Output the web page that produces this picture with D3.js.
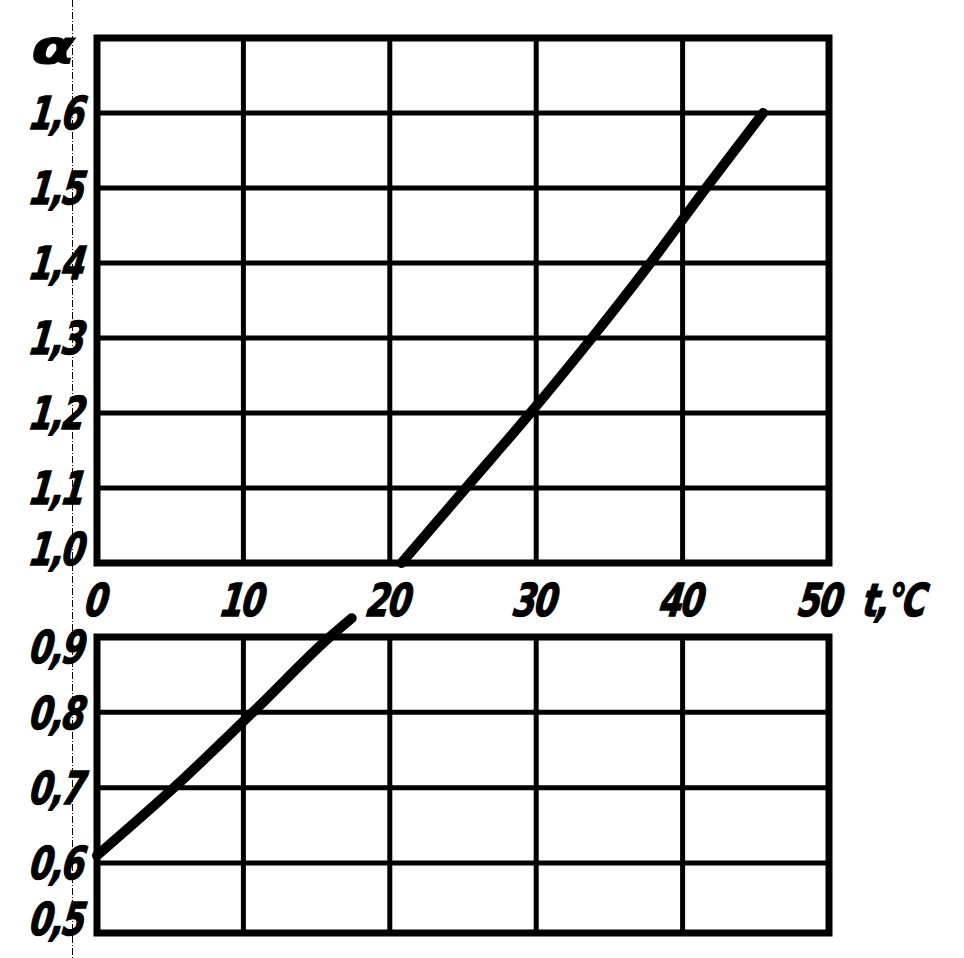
<!DOCTYPE html>
<html>
<head>
<meta charset="utf-8">
<script src="https://cdn.jsdelivr.net/npm/d3@7"></script>
<style>
  body { margin: 0; background: #fff; }
  text { font-family: "DejaVu Sans Condensed", "DejaVu Sans", sans-serif; font-weight: bold; font-style: oblique; fill: #000; stroke: #000; stroke-width: 1.2px; letter-spacing: -2px; }
</style>
</head>
<body>
<div id="chart"></div>
<script>
// temperature ticks, shared by both panels
const tTicks = [0, 10, 20, 30, 40, 50];

// upper panel: alpha >= 1
const upperTicks = [1.0, 1.1, 1.2, 1.3, 1.4, 1.5, 1.6];
const upperT     = [20.8, 25.2, 29.6, 33.8, 37.8, 41.6, 45.5];
const upperAlpha = [1.0, 1.1, 1.2, 1.3, 1.4, 1.5, 1.6];

// lower panel: alpha < 1
const lowerTicks = [0.5, 0.6, 0.7, 0.8, 0.9];
const lowerT     = [0, 5.7, 10.9, 15.9, 17.4];
const lowerAlpha = [0.61, 0.708, 0.805, 0.9, 0.925];

const W = 964, H = 958;
const fmt = v => d3.format(".1f")(v).replace(".", ",");

const svg = d3.select("#chart").append("svg")
    .attr("width", W)
    .attr("height", H);

// scanner artefact: thin dash-dot line down the left side
svg.append("line")
    .attr("x1", 72.5).attr("x2", 72.5)
    .attr("y1", 0).attr("y2", H)
    .attr("stroke", "#000")
    .attr("stroke-width", 1)
    .attr("stroke-dasharray", "7,2,1,2");

const x = d3.scaleLinear().domain([0, 50]).range([97, 829]);

const yUp = d3.scaleLinear().domain([1.0, 1.7]).range([563, 38]);
const yLo = d3.scaleLinear().domain([0.507, 0.9]).range([933, 637]);

// hand-lettered look: narrow, slanted
function letter(sel, size) {
    sel.attr("font-size", size)
        .attr("transform", function () {
            const tx = +this.getAttribute("x"), ty = +this.getAttribute("y");
            return `translate(${tx},${ty}) scale(0.88,1.08) skewX(-10) translate(${-tx},${-ty})`;
        });
}

function panel(y, ticks, ts, vals) {
    const [yb, yt] = y.range();
    const g = svg.append("g");

    // horizontal grid
    g.selectAll("line.h")
        .data(ticks.filter(v => y(v) < yb - 2 && y(v) > yt + 2))
        .enter().append("line")
        .attr("x1", x(0)).attr("x2", x(50))
        .attr("y1", d => y(d)).attr("y2", d => y(d))
        .attr("stroke", "#000").attr("stroke-width", 5);

    // vertical grid
    g.selectAll("line.v")
        .data(tTicks.slice(1, -1))
        .enter().append("line")
        .attr("x1", d => x(d)).attr("x2", d => x(d))
        .attr("y1", yt).attr("y2", yb)
        .attr("stroke", "#000").attr("stroke-width", 5);

    // frame
    g.append("rect")
        .attr("x", x(0)).attr("y", yt)
        .attr("width", x(50) - x(0)).attr("height", yb - yt)
        .attr("fill", "none")
        .attr("stroke", "#000").attr("stroke-width", 7);

    // y labels
    g.selectAll("text.y")
        .data(ticks)
        .enter().append("text")
        .attr("x", 85)
        .attr("y", d => Math.max(yt + 10, Math.min(yb - 14, y(d))))
        .attr("dy", "0.36em")
        .attr("text-anchor", "end")
        .text(d => fmt(d))
        .call(letter, 42);

    // curve
    const pts = ts.map((t, i) => [t, vals[i]]);
    g.append("path")
        .datum(pts)
        .attr("d", d3.line().curve(d3.curveMonotoneX).x(d => x(d[0])).y(d => y(d[1])))
        .attr("fill", "none")
        .attr("stroke", "#000")
        .attr("stroke-width", 10)
        .attr("stroke-linecap", "round")
        .attr("stroke-linejoin", "round");
}

panel(yUp, upperTicks, upperT, upperAlpha);
panel(yLo, lowerTicks, lowerT, lowerAlpha);

// t axis labels between the panels
svg.selectAll("text.x")
    .data(tTicks)
    .enter().append("text")
    .attr("x", d => x(d) - (d === 50 ? 8 : 0))
    .attr("y", 600)
    .attr("dy", "0.36em")
    .attr("text-anchor", "middle")
    .text(d => d)
    .call(letter, 42);

svg.append("text")
    .attr("x", 864)
    .attr("y", 600)
    .attr("dy", "0.36em")
    .text("t,°C")
    .call(letter, 42);

// alpha symbol above the y labels
svg.append("text")
    .attr("x", 52)
    .attr("y", 46)
    .attr("dy", "0.36em")
    .attr("text-anchor", "middle")
    .attr("font-size", 54)
    .attr("font-style", "normal")
    .attr("stroke-width", 1.5)
    .attr("transform", "translate(52,46) scale(1.3,0.85) translate(-52,-46)")
    .text("α");
</script>
</body>
</html>
